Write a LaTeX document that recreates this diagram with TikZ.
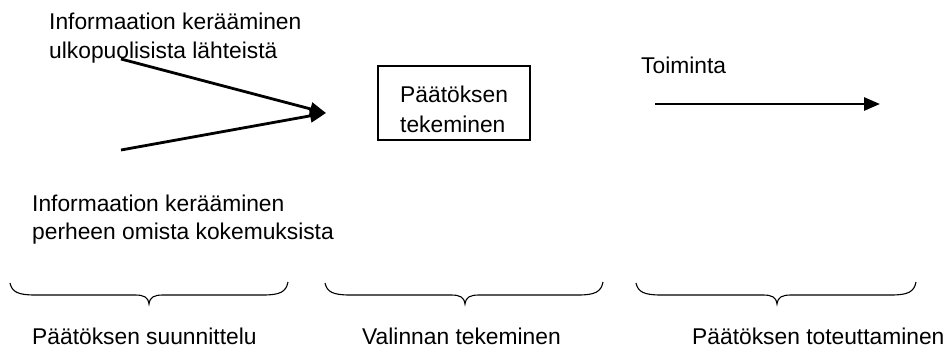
\documentclass[tikz,border=0pt]{standalone}
\usepackage{fontspec}
\setmainfont{Liberation Sans}
\usetikzlibrary{arrows.meta}
\newcommand\mybrace[3]{%
  \draw[bracestyle] (#1,283) .. controls (#1+2,292) and (#1+8,295) .. (#1+25,295)
    -- (#2-14,295) .. controls (#2-5,295) and (#2-1,297) .. (#2,304)
    .. controls (#2+1,297) and (#2+5,295) .. (#2+14,295)
    -- (#3-25,295) .. controls (#3-8,295) and (#3-2,292) .. (#3,282);}
\begin{document}
\begin{tikzpicture}[x=1pt,y=-1pt,
  txt/.style={anchor=base west,inner sep=0pt,font=\fontsize{22.8}{27}\selectfont},
  flow/.style={line width=2.8pt,-{Triangle[length=16pt,width=13pt]}},
  bracestyle/.style={line width=1.1pt}]
\useasboundingbox (0,0) rectangle (945,349);
% texts
\node[txt] (t1a) at (49,29) {Informaation kerääminen};
\node[txt] (t1b) at (49,58) {ulkopuolisista lähteistä};
\node[txt] (t2a) at (32,211) {Informaation kerääminen};
\node[txt] (t2b) at (32,239) {perheen omista kokemuksista};
\node[txt] (toim) at (641,73) {Toiminta};
% box
\node[draw,line width=1.3pt,minimum width=152pt,minimum height=74pt,inner sep=0pt] (box) at (454,103) {};
\node[txt] (bx1) at (400,102) {Päätöksen};
\node[txt] (bx2) at (400,132) {tekeminen};
% arrows
\coordinate (s1) at (121,59);
\coordinate (s2) at (121,150);
\coordinate (m) at (326,113);
\draw[flow] (s1) -- (m);
\draw[flow] (s2) -- (m);
\coordinate (a1) at (655,104);
\coordinate (a2) at (880,104);
\draw[flow] (a1) -- (a2);
% braces
\mybrace{10}{149}{288}
\mybrace{325}{465}{603}
\mybrace{636}{777}{916}
% bottom labels
\node[txt] (l1) at (32,344) {Päätöksen suunnittelu};
\node[txt] (l2) at (362,344) {Valinnan tekeminen};
\node[txt] (l3) at (692,344) {Päätöksen toteuttaminen};
\end{tikzpicture}
\end{document}
